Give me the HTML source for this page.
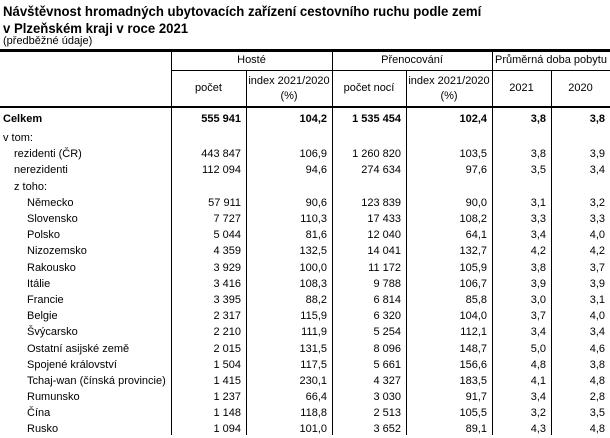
<!DOCTYPE html>
<html><head><meta charset="utf-8"><style>
*{margin:0;padding:0;box-sizing:border-box}
body{width:610px;height:435px;background:#fff;font-family:"Liberation Sans",Arial,sans-serif;color:#000;position:relative;overflow:hidden}
.t{position:absolute;left:3px;font-weight:bold;font-size:14px;line-height:15px;transform:scaleX(0.94);transform-origin:0 0;white-space:nowrap}
.s{position:absolute;left:3px;top:35px;font-size:11px}
.hl{position:absolute;background:#000;left:0;width:610px}
.vl{position:absolute;background:#000;width:1px}
.h{position:absolute;font-size:11px;text-align:center;line-height:15px}
table{position:absolute;top:108px;left:0;border-collapse:collapse;table-layout:fixed;font-size:11px}
td{height:16.2px;padding:0 5px 0 0;text-align:right;white-space:nowrap;line-height:16px}
td:first-child{text-align:left;padding:0}
tr.b td{font-weight:bold;height:22px}
.i1{padding-left:14px!important}
.i2{padding-left:27px!important}
</style></head><body>
<div class="t" style="top:4px">Návštěvnost hromadných ubytovacích zařízení cestovního ruchu podle zemí</div>
<div class="t" style="top:21px">v Plzeňském kraji v roce 2021</div>
<div class="s">(předběžné údaje)</div>
<div class="hl" style="top:49px;height:3px"></div>
<div class="hl" style="top:70px;height:1px;left:171px;width:439px"></div>
<div class="hl" style="top:106px;height:2px"></div>
<div class="vl" style="left:171px;top:51px;height:384px"></div>
<div class="vl" style="left:246px;top:70px;height:365px"></div>
<div class="vl" style="left:332px;top:51px;height:384px"></div>
<div class="vl" style="left:406px;top:70px;height:365px"></div>
<div class="vl" style="left:492px;top:51px;height:384px"></div>
<div class="vl" style="left:551px;top:70px;height:365px"></div>
<div class="h" style="left:171px;width:161px;top:53px">Hosté</div>
<div class="h" style="left:332px;width:160px;top:53px">Přenocování</div>
<div class="h" style="left:492px;width:118px;top:53px">Průměrná doba pobytu</div>
<div class="h" style="left:171px;width:75px;top:81px">počet</div>
<div class="h" style="left:246px;width:86px;top:74px">index 2021/2020<br>(%)</div>
<div class="h" style="left:332px;width:74px;top:81px">počet nocí</div>
<div class="h" style="left:406px;width:86px;top:74px">index 2021/2020<br>(%)</div>
<div class="h" style="left:492px;width:59px;top:81px">2021</div>
<div class="h" style="left:551px;width:59px;top:81px">2020</div>
<table>
<colgroup><col style="width:171px"><col style="width:75px"><col style="width:86px"><col style="width:74px"><col style="width:86px"><col style="width:59px"><col style="width:59px"></colgroup>
<tr class="b"><td style="padding-left:3px">Celkem</td><td>555 941</td><td>104,2</td><td>1 535 454</td><td>102,4</td><td>3,8</td><td>3,8</td></tr>
<tr><td style="padding-left:3px;height:15px">v tom:</td><td></td><td></td><td></td><td></td><td></td><td></td></tr>
<tr><td class="i1">rezidenti (ČR)</td><td>443 847</td><td>106,9</td><td>1 260 820</td><td>103,5</td><td>3,8</td><td>3,9</td></tr>
<tr><td class="i1">nerezidenti</td><td>112 094</td><td>94,6</td><td>274 634</td><td>97,6</td><td>3,5</td><td>3,4</td></tr>
<tr><td class="i1">z toho:</td><td></td><td></td><td></td><td></td><td></td><td></td></tr>
<tr><td class="i2">Německo</td><td>57 911</td><td>90,6</td><td>123 839</td><td>90,0</td><td>3,1</td><td>3,2</td></tr>
<tr><td class="i2">Slovensko</td><td>7 727</td><td>110,3</td><td>17 433</td><td>108,2</td><td>3,3</td><td>3,3</td></tr>
<tr><td class="i2">Polsko</td><td>5 044</td><td>81,6</td><td>12 040</td><td>64,1</td><td>3,4</td><td>4,0</td></tr>
<tr><td class="i2">Nizozemsko</td><td>4 359</td><td>132,5</td><td>14 041</td><td>132,7</td><td>4,2</td><td>4,2</td></tr>
<tr><td class="i2">Rakousko</td><td>3 929</td><td>100,0</td><td>11 172</td><td>105,9</td><td>3,8</td><td>3,7</td></tr>
<tr><td class="i2">Itálie</td><td>3 416</td><td>108,3</td><td>9 788</td><td>106,7</td><td>3,9</td><td>3,9</td></tr>
<tr><td class="i2">Francie</td><td>3 395</td><td>88,2</td><td>6 814</td><td>85,8</td><td>3,0</td><td>3,1</td></tr>
<tr><td class="i2">Belgie</td><td>2 317</td><td>115,9</td><td>6 320</td><td>104,0</td><td>3,7</td><td>4,0</td></tr>
<tr><td class="i2">Švýcarsko</td><td>2 210</td><td>111,9</td><td>5 254</td><td>112,1</td><td>3,4</td><td>3,4</td></tr>
<tr><td class="i2">Ostatní asijské země</td><td>2 015</td><td>131,5</td><td>8 096</td><td>148,7</td><td>5,0</td><td>4,6</td></tr>
<tr><td class="i2">Spojené království</td><td>1 504</td><td>117,5</td><td>5 661</td><td>156,6</td><td>4,8</td><td>3,8</td></tr>
<tr><td class="i2">Tchaj-wan (čínská provincie)</td><td>1 415</td><td>230,1</td><td>4 327</td><td>183,5</td><td>4,1</td><td>4,8</td></tr>
<tr><td class="i2">Rumunsko</td><td>1 237</td><td>66,4</td><td>3 030</td><td>91,7</td><td>3,4</td><td>2,8</td></tr>
<tr><td class="i2">Čína</td><td>1 148</td><td>118,8</td><td>2 513</td><td>105,5</td><td>3,2</td><td>3,5</td></tr>
<tr><td class="i2">Rusko</td><td>1 094</td><td>101,0</td><td>3 652</td><td>89,1</td><td>4,3</td><td>4,8</td></tr>
</table>
</body></html>
